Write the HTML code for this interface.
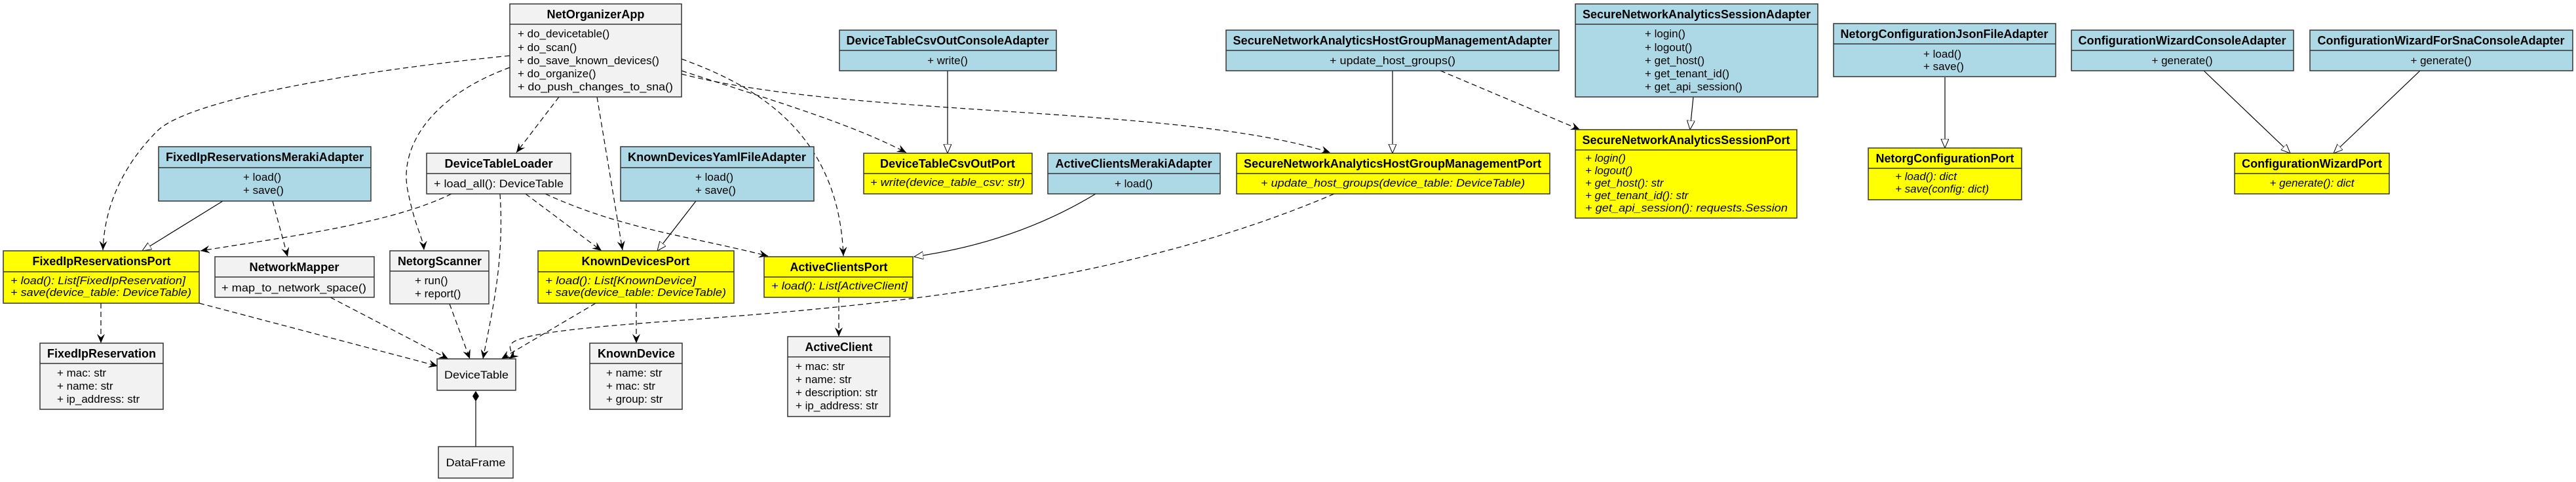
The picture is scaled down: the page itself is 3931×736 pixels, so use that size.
<!DOCTYPE html>
<html><head><meta charset="utf-8"><style>
html,body{margin:0;padding:0;background:#fff;}
svg{display:block;}
text{font-family:"Liberation Sans",Arial,sans-serif;font-size:17px;fill:#000;}
.t{font-weight:bold;font-size:18px;}
.i{font-style:italic;}
.b{fill:#add8e6;stroke:#333;stroke-width:1.5;}
.y{fill:#ffff00;stroke:#333;stroke-width:1.5;}
.g{fill:#f2f2f2;stroke:#333;stroke-width:1.5;}
.sep{stroke:#333;stroke-width:1.5;}
.d{fill:none;stroke:#000;stroke-width:1.2;stroke-dasharray:8,5;marker-end:url(#vee);}
.s{fill:none;stroke:#000;stroke-width:1.2;marker-end:url(#tri);}
</style></head><body>
<svg width="3931" height="736" viewBox="0 0 3931 736" xmlns="http://www.w3.org/2000/svg">
<defs>
<marker id="vee" markerUnits="userSpaceOnUse" markerWidth="16" markerHeight="14" refX="14" refY="6" orient="auto"><path d="M0,0 L14,6 L0,12 L5,6 z" fill="#000"/></marker>
<marker id="tri" markerUnits="userSpaceOnUse" markerWidth="16" markerHeight="14" refX="14" refY="6" orient="auto"><path d="M0,0 L14,6 L0,12 z" fill="#fff" stroke="#000" stroke-width="1"/></marker>
</defs>

<!-- edges -->
<path class="d" d="M778,85 C480,115 280,160 240,200 S160,300 157,382"/>
<path class="d" d="M778,103 C650,150 610,230 622,290 S645,360 647,382"/>
<path class="d" d="M853,148 L788,233"/>
<path class="d" d="M911,148 L950,382"/>
<path class="d" d="M1040,90 C1150,130 1280,200 1287,391"/>
<path class="d" d="M1040,108 C1200,160 1300,190 1383,233"/>
<path class="d" d="M1040,113 C1300,180 1800,160 2030,233"/>
<path class="d" d="M689,296 C600,340 450,360 306,383"/>
<path class="d" d="M763,296 C770,400 750,480 737,548"/>
<path class="d" d="M802,296 L918,383"/>
<path class="d" d="M832,296 C950,350 1050,360 1172,391"/>
<path class="s" d="M340,307 L217,383"/>
<path class="d" d="M416,307 L439,392"/>
<path class="s" d="M1062,307 L1003,383"/>
<path class="d" d="M154,463 L154,524"/>
<path class="d" d="M304,463 L668,559"/>
<path class="d" d="M504,454 L684,548"/>
<path class="d" d="M686,464 L717,548"/>
<path class="d" d="M909,463 L765,548"/>
<path class="d" d="M971,463 L971,524"/>
<path class="d" d="M2036,296 C1700,440 1300,470 1000,492 S800,530 777,548"/>
<path class="s" d="M1672,296 Q1550,370 1395,392"/>
<path class="d" d="M1280,454 L1280,514"/>
<path class="s" d="M1446,108 L1446,234"/>
<path class="s" d="M2125,108 L2125,234"/>
<path class="d" d="M2198,108 L2411,198"/>
<path class="s" d="M2584,148 L2579,198"/>
<path class="s" d="M2968,118 L2968,226"/>
<path class="s" d="M3363,108 L3495,234"/>
<path class="s" d="M3693,108 L3561,234"/>
<line x1="726" y1="612" x2="726" y2="682" stroke="#000" stroke-width="1.2"/>
<path d="M726,597 L731,605 L726,613 L721,605 z" fill="#000"/>

<!-- NetOrganizerApp -->
<rect class="g" x="778" y="6" width="262" height="142"/><line class="sep" x1="778" y1="37" x2="1040" y2="37"/>
<text class="t" x="909" y="28" text-anchor="middle" textLength="149" lengthAdjust="spacingAndGlyphs">NetOrganizerApp</text>
<text x="790" y="57">+ do_devicetable()</text>
<text x="790" y="78">+ do_scan()</text>
<text x="790" y="98">+ do_save_known_devices()</text>
<text x="790" y="118">+ do_organize()</text>
<text x="790" y="138" textLength="237" lengthAdjust="spacingAndGlyphs">+ do_push_changes_to_sna()</text>

<!-- FixedIpReservationsMerakiAdapter -->
<rect class="b" x="242" y="224" width="324" height="83"/><line class="sep" x1="242" y1="256" x2="566" y2="256"/>
<text class="t" x="404" y="246" text-anchor="middle" textLength="302" lengthAdjust="spacingAndGlyphs">FixedIpReservationsMerakiAdapter</text>
<text x="371" y="276">+ load()</text><text x="371" y="296">+ save()</text>

<!-- FixedIpReservationsPort -->
<rect class="y" x="5" y="383" width="299" height="80"/><line class="sep" x1="5" y1="415" x2="304" y2="415"/>
<text class="t" x="155" y="405" text-anchor="middle" textLength="211" lengthAdjust="spacingAndGlyphs">FixedIpReservationsPort</text>
<text class="i" x="16" y="434" textLength="267" lengthAdjust="spacingAndGlyphs">+ load(): List[FixedIpReservation]</text>
<text class="i" x="16" y="452" textLength="276" lengthAdjust="spacingAndGlyphs">+ save(device_table: DeviceTable)</text>

<!-- NetworkMapper -->
<rect class="g" x="328" y="392" width="243" height="62"/><line class="sep" x1="328" y1="423" x2="571" y2="423"/>
<text class="t" x="449" y="414" text-anchor="middle" textLength="137" lengthAdjust="spacingAndGlyphs">NetworkMapper</text>
<text x="338" y="445" textLength="221" lengthAdjust="spacingAndGlyphs">+ map_to_network_space()</text>

<!-- NetorgScanner -->
<rect class="g" x="595" y="383" width="151" height="81"/><line class="sep" x1="595" y1="414" x2="746" y2="414"/>
<text class="t" x="671" y="405" text-anchor="middle" textLength="128" lengthAdjust="spacingAndGlyphs">NetorgScanner</text>
<text x="633" y="434">+ run()</text><text x="633" y="454">+ report()</text>

<!-- DeviceTableLoader -->
<rect class="g" x="651" y="234" width="220" height="62"/><line class="sep" x1="651" y1="265" x2="871" y2="265"/>
<text class="t" x="761" y="256" text-anchor="middle" textLength="165" lengthAdjust="spacingAndGlyphs">DeviceTableLoader</text>
<text x="662" y="286" textLength="198" lengthAdjust="spacingAndGlyphs">+ load_all(): DeviceTable</text>

<!-- KnownDevicesYamlFileAdapter -->
<rect class="b" x="947" y="224" width="295" height="83"/><line class="sep" x1="947" y1="256" x2="1242" y2="256"/>
<text class="t" x="1094" y="246" text-anchor="middle" textLength="272" lengthAdjust="spacingAndGlyphs">KnownDevicesYamlFileAdapter</text>
<text x="1061" y="276">+ load()</text><text x="1061" y="296">+ save()</text>

<!-- KnownDevicesPort -->
<rect class="y" x="821" y="383" width="299" height="80"/><line class="sep" x1="821" y1="415" x2="1120" y2="415"/>
<text class="t" x="970" y="405" text-anchor="middle" textLength="165" lengthAdjust="spacingAndGlyphs">KnownDevicesPort</text>
<text class="i" x="832" y="434" textLength="230" lengthAdjust="spacingAndGlyphs">+ load(): List[KnownDevice]</text>
<text class="i" x="832" y="452" textLength="276" lengthAdjust="spacingAndGlyphs">+ save(device_table: DeviceTable)</text>

<!-- FixedIpReservation -->
<rect class="g" x="61" y="524" width="188" height="101"/><line class="sep" x1="61" y1="555" x2="249" y2="555"/>
<text class="t" x="155" y="546" text-anchor="middle" textLength="166" lengthAdjust="spacingAndGlyphs">FixedIpReservation</text>
<text x="87" y="575">+ mac: str</text><text x="87" y="595">+ name: str</text><text x="87" y="615">+ ip_address: str</text>

<!-- DeviceTable / DataFrame -->
<rect class="g" x="667" y="548" width="120" height="48"/>
<text x="727" y="578" text-anchor="middle" textLength="98" lengthAdjust="spacingAndGlyphs">DeviceTable</text>
<rect class="g" x="669" y="682" width="114" height="48"/>
<text x="726" y="712" text-anchor="middle" textLength="91" lengthAdjust="spacingAndGlyphs">DataFrame</text>

<!-- KnownDevice -->
<rect class="g" x="900" y="524" width="141" height="101"/><line class="sep" x1="900" y1="555" x2="1041" y2="555"/>
<text class="t" x="971" y="546" text-anchor="middle" textLength="118" lengthAdjust="spacingAndGlyphs">KnownDevice</text>
<text x="925" y="575">+ name: str</text><text x="925" y="595">+ mac: str</text><text x="925" y="615">+ group: str</text>

<!-- DeviceTableCsvOutConsoleAdapter -->
<rect class="b" x="1281" y="46" width="331" height="62"/><line class="sep" x1="1281" y1="77" x2="1612" y2="77"/>
<text class="t" x="1446" y="68" text-anchor="middle" textLength="309" lengthAdjust="spacingAndGlyphs">DeviceTableCsvOutConsoleAdapter</text>
<text x="1446" y="98" text-anchor="middle">+ write()</text>

<!-- DeviceTableCsvOutPort -->
<rect class="y" x="1318" y="234" width="257" height="62"/><line class="sep" x1="1318" y1="265" x2="1575" y2="265"/>
<text class="t" x="1446" y="256" text-anchor="middle" textLength="206" lengthAdjust="spacingAndGlyphs">DeviceTableCsvOutPort</text>
<text class="i" x="1328" y="284" textLength="236" lengthAdjust="spacingAndGlyphs">+ write(device_table_csv: str)</text>

<!-- ActiveClientsMerakiAdapter -->
<rect class="b" x="1599" y="234" width="263" height="62"/><line class="sep" x1="1599" y1="265" x2="1862" y2="265"/>
<text class="t" x="1730" y="256" text-anchor="middle" textLength="239" lengthAdjust="spacingAndGlyphs">ActiveClientsMerakiAdapter</text>
<text x="1730" y="286" text-anchor="middle">+ load()</text>

<!-- ActiveClientsPort -->
<rect class="y" x="1166" y="392" width="227" height="62"/><line class="sep" x1="1166" y1="423" x2="1393" y2="423"/>
<text class="t" x="1280" y="414" text-anchor="middle" textLength="149" lengthAdjust="spacingAndGlyphs">ActiveClientsPort</text>
<text class="i" x="1177" y="442" textLength="208" lengthAdjust="spacingAndGlyphs">+ load(): List[ActiveClient]</text>

<!-- ActiveClient -->
<rect class="g" x="1202" y="514" width="156" height="122"/><line class="sep" x1="1202" y1="545" x2="1358" y2="545"/>
<text class="t" x="1280" y="536" text-anchor="middle" textLength="103" lengthAdjust="spacingAndGlyphs">ActiveClient</text>
<text x="1214" y="565">+ mac: str</text><text x="1214" y="585">+ name: str</text><text x="1214" y="605">+ description: str</text><text x="1214" y="625">+ ip_address: str</text>

<!-- SNA HostGroup Adapter -->
<rect class="b" x="1871" y="46" width="508" height="62"/><line class="sep" x1="1871" y1="77" x2="2379" y2="77"/>
<text class="t" x="2125" y="68" text-anchor="middle" textLength="487" lengthAdjust="spacingAndGlyphs">SecureNetworkAnalyticsHostGroupManagementAdapter</text>
<text x="2125" y="98" text-anchor="middle" textLength="192" lengthAdjust="spacingAndGlyphs">+ update_host_groups()</text>

<!-- SNA HostGroup Port -->
<rect class="y" x="1887" y="234" width="478" height="62"/><line class="sep" x1="1887" y1="265" x2="2365" y2="265"/>
<text class="t" x="2125" y="256" text-anchor="middle" textLength="454" lengthAdjust="spacingAndGlyphs">SecureNetworkAnalyticsHostGroupManagementPort</text>
<text class="i" x="1924" y="285" textLength="403" lengthAdjust="spacingAndGlyphs">+ update_host_groups(device_table: DeviceTable)</text>

<!-- Session Adapter -->
<rect class="b" x="2404" y="6" width="370" height="142"/><line class="sep" x1="2404" y1="37" x2="2774" y2="37"/>
<text class="t" x="2589" y="28" text-anchor="middle" textLength="348" lengthAdjust="spacingAndGlyphs">SecureNetworkAnalyticsSessionAdapter</text>
<text x="2510" y="57">+ login()</text><text x="2510" y="78">+ logout()</text><text x="2510" y="98">+ get_host()</text><text x="2510" y="118">+ get_tenant_id()</text><text x="2510" y="138">+ get_api_session()</text>

<!-- Session Port -->
<rect class="y" x="2404" y="198" width="338" height="135"/><line class="sep" x1="2404" y1="229" x2="2742" y2="229"/>
<text class="t" x="2573" y="220" text-anchor="middle" textLength="317" lengthAdjust="spacingAndGlyphs">SecureNetworkAnalyticsSessionPort</text>
<text class="i" x="2419" y="247">+ login()</text><text class="i" x="2419" y="266">+ logout()</text><text class="i" x="2419" y="285">+ get_host(): str</text><text class="i" x="2419" y="304">+ get_tenant_id(): str</text>
<text class="i" x="2419" y="323" textLength="309" lengthAdjust="spacingAndGlyphs">+ get_api_session(): requests.Session</text>

<!-- Json adapter -->
<rect class="b" x="2798" y="36" width="339" height="81"/><line class="sep" x1="2798" y1="67" x2="3137" y2="67"/>
<text class="t" x="2967" y="58" text-anchor="middle" textLength="317" lengthAdjust="spacingAndGlyphs">NetorgConfigurationJsonFileAdapter</text>
<text x="2935" y="88">+ load()</text><text x="2935" y="107">+ save()</text>

<!-- Config port -->
<rect class="y" x="2851" y="226" width="234" height="79"/><line class="sep" x1="2851" y1="257" x2="3085" y2="257"/>
<text class="t" x="2968" y="248" text-anchor="middle" textLength="211" lengthAdjust="spacingAndGlyphs">NetorgConfigurationPort</text>
<text class="i" x="2892" y="275">+ load(): dict</text><text class="i" x="2892" y="294">+ save(config: dict)</text>

<!-- Wizard adapters -->
<rect class="b" x="3161" y="46" width="339" height="62"/><line class="sep" x1="3161" y1="77" x2="3500" y2="77"/>
<text class="t" x="3330" y="68" text-anchor="middle" textLength="317" lengthAdjust="spacingAndGlyphs">ConfigurationWizardConsoleAdapter</text>
<text x="3330" y="98" text-anchor="middle">+ generate()</text>
<rect class="b" x="3525" y="46" width="401" height="62"/><line class="sep" x1="3525" y1="77" x2="3926" y2="77"/>
<text class="t" x="3725" y="68" text-anchor="middle" textLength="377" lengthAdjust="spacingAndGlyphs">ConfigurationWizardForSnaConsoleAdapter</text>
<text x="3725" y="98" text-anchor="middle">+ generate()</text>

<!-- Wizard port -->
<rect class="y" x="3410" y="234" width="236" height="62"/><line class="sep" x1="3410" y1="265" x2="3646" y2="265"/>
<text class="t" x="3528" y="256" text-anchor="middle" textLength="214" lengthAdjust="spacingAndGlyphs">ConfigurationWizardPort</text>
<text class="i" x="3528" y="285" text-anchor="middle">+ generate(): dict</text>
</svg>
</body></html>
